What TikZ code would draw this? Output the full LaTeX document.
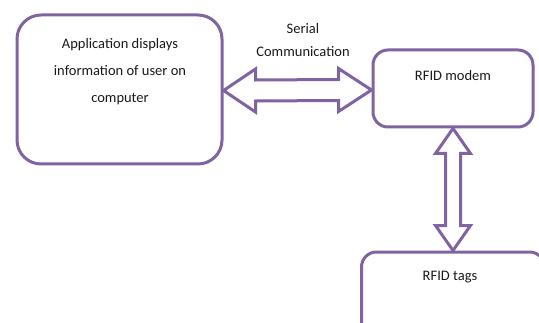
\documentclass[tikz,border=0pt]{standalone}
\usepackage{fontspec}
\setmainfont{Carlito}
\usetikzlibrary{calc}
\definecolor{boxpurple}{HTML}{8064A2}
\definecolor{txt}{HTML}{1A1A1A}
\tikzset{
  rbox/.style={draw=boxpurple, line width=3pt, rounded corners=18pt, fill=white, inner sep=0pt},
  lbl/.style={text=txt, align=center, inner sep=0pt, font=\fontsize{14.5}{27}\selectfont},
  dblarrow/.style={draw=boxpurple, line width=3pt, line join=miter, fill=white}
}
\begin{document}
\begin{tikzpicture}[x=1pt,y=1pt]
\useasboundingbox (0,0) rectangle (539,322);
\clip (0,0) rectangle (539,322);
\fill[white] (0,0) rectangle (539,322);
% boxes
\node[rbox, minimum width=205pt, minimum height=149pt, rounded corners=24pt] (app) at (119.5,232.5) {};
\node[rbox, minimum width=160pt, minimum height=77pt, rounded corners=15pt] (modem) at (453,233.5) {};
\node[rbox, minimum width=183pt, minimum height=90pt, rounded corners=15pt] (tags) at (453,25) {};
% texts
\node[lbl] (apptext) at (120,250) {Application displays\\information of user on\\computer};
\node[lbl] (modemtext) at (453,246) {RFID modem};
\node[lbl] (tagstext) at (450,45) {RFID tags};
\node[lbl, font=\fontsize{14.5}{23}\selectfont] (serial) at (303,281.5) {Serial\\Communication};
% horizontal double arrow
\coordinate (A) at ($(app.east)+(0,-1)$);
\coordinate (B) at ($(modem.west)+(0,-1.5)$);
\draw[dblarrow] (A) -- ($(A)+(32,21.5)$) -- ($(A)+(32,10.5)$) -- ($(B)+(-33,10.5)$) -- ($(B)+(-33,21.5)$) -- (B)
  -- ($(B)+(-33,-21.5)$) -- ($(B)+(-33,-10.5)$) -- ($(A)+(32,-10.5)$) -- ($(A)+(32,-21.5)$) -- cycle;
% vertical double arrow
\coordinate (C) at (modem.south);
\coordinate (D) at (tags.north);
\draw[dblarrow] (C) -- ($(C)+(17.5,-25)$) -- ($(C)+(7.5,-25)$) -- ($(D)+(7.5,25)$) -- ($(D)+(17.5,25)$) -- (D)
  -- ($(D)+(-17.5,25)$) -- ($(D)+(-7.5,25)$) -- ($(C)+(-7.5,-25)$) -- ($(C)+(-17.5,-25)$) -- cycle;
\end{tikzpicture}
\end{document}
